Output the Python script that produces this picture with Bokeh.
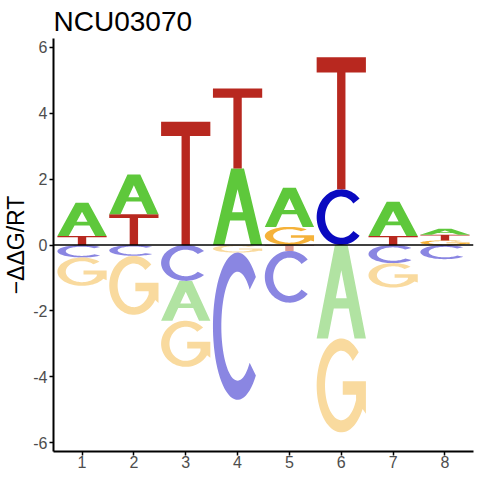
import numpy as np
from bokeh.plotting import figure
from bokeh.models import Range1d, FixedTicker, Span
from bokeh.embed import file_html
from bokeh.resources import INLINE

# ---- data (free energy contributions, -ddG/RT) ----
positions = [1, 2, 3, 4, 5, 6, 7, 8]
A_energy = [1.01, 1.21, -1.21, 2.32, 1.19, -2.84, 1.04, 0.18]
C_energy = [-0.38, -0.33, -1.09, -4.47, -1.57, 1.69, -0.55, -0.43]
G_energy = [-0.86, -1.79, -1.40, -0.23, 0.55, -2.85, -0.74, 0.14]
T_energy = [0.27, 0.93, 3.74, 2.43, -0.18, 4.01, 0.27, 0.17]
y_ticks = [-6, -4, -2, 0, 2, 4, 6]
title_text = "NCU03070"
y_label = "\u2212\u0394\u0394G/RT"

colors_pos = {"A": "#5EC83B", "C": "#0A0AC0", "G": "#F5B23A", "T": "#B8281F"}
colors_neg = {"A": "#B1E3A2", "C": "#8A86E2", "G": "#F9DA9E", "T": "#DE9C93"}

# ---- letter outline templates in unit box ----
def arc(a0, a1, rx, ry, n=60):
    t = np.radians(np.linspace(a0, a1, n))
    return list(0.5 + rx * np.cos(t)), list(0.5 + ry * np.sin(t))

def letter_A():
    s, th = 0.37, 0.23
    cb0, cb1 = 0.32, 0.43
    ox = [0, th, th + s * cb0, 1 - th - s * cb0, 1 - th, 1, 1 - s, s]
    oy = [0, 0, cb0, cb0, 0, 0, 1, 1]
    apex = (1 - 2 * th) / (2 * s)
    hx = [th + s * cb1, 1 - th - s * cb1, 0.5]
    hy = [cb1, cb1, apex]
    return [[(ox, oy), (hx, hy)]]

def letter_C():
    tx, ty = 0.17, 0.13
    x1, y1 = arc(42, 318, 0.5, 0.5)
    x2, y2 = arc(318, 42, 0.5 - tx, 0.5 - ty)
    return [[(x1 + x2, y1 + y2)]]

def letter_G():
    tx, ty = 0.17, 0.13
    rx, ry = 0.5 - tx, 0.5 - ty
    x1, y1 = arc(45, 330, 0.5, 0.5)
    sx = 0.80
    t = np.degrees(np.arccos((sx - 0.5) / rx))
    x2, y2 = arc(360 - t, 45, rx, ry)
    xs = x1 + [1.0, 1.0, 0.53, 0.53, sx] + x2
    ys = y1 + [0.2, 0.545, 0.545, 0.40, 0.40] + y2
    return [[(xs, ys)]]

def letter_T():
    b, w0, w1 = 0.885, 0.415, 0.585
    xs = [0, 1, 1, w1, w1, w0, w0, 0]
    ys = [1, 1, b, b, 0, 0, b, b]
    return [[(xs, ys)]]

templates = {"A": letter_A(), "C": letter_C(), "G": letter_G(), "T": letter_T()}

# ---- build stacked letters ----
half = 0.475
XS, YS, FC = [], [], []
energies = {"A": A_energy, "C": C_energy, "G": G_energy, "T": T_energy}
for i, pos in enumerate(positions):
    vals = [(b, energies[b][i]) for b in "ACGT"]
    pos_list = sorted([v for v in vals if v[1] > 0], key=lambda v: v[1])
    neg_list = sorted([v for v in vals if v[1] < 0], key=lambda v: -v[1])
    stacks = []
    base = 0.0
    for b, e in pos_list:
        stacks.append((b, base, base + e, colors_pos[b]))
        base += e
    base = 0.0
    for b, e in neg_list:
        stacks.append((b, base + e, base, colors_neg[b]))
        base += e
    for b, y0, y1, col in stacks:
        polys = []
        for poly in templates[b]:
            rx_, ry_ = [], []
            for (ux, uy) in poly:
                rx_.append([pos - half + u * 2 * half for u in ux])
                ry_.append([y0 + v * (y1 - y0) for v in uy])
            polys.append((rx_, ry_))
        XS.append([p_[0] for p_ in polys])
        YS.append([p_[1] for p_ in polys])
        FC.append(col)

p = figure(width=478, height=478, output_backend="svg", toolbar_location=None,
           x_range=Range1d(0.45, 8.55), y_range=Range1d(-6.27, 6.27),
           min_border_left=51, min_border_right=5, min_border_top=38, min_border_bottom=27)
p.multi_polygons(xs=XS, ys=YS, fill_color=FC, line_color=None)

p.add_layout(Span(location=0, dimension="width", line_color="black", line_width=1.3))

p.title.text = title_text
p.title.text_font = "Liberation Sans"
p.title.text_font_size = "28px"
p.title.text_font_style = "normal"
p.title.text_color = "black"
p.title.standoff = 4
p.title.offset = 0

p.xgrid.visible = False
p.ygrid.visible = False
p.outline_line_color = None
p.background_fill_color = "white"

for ax in (p.xaxis[0], p.yaxis[0]):
    ax.axis_line_color = "black"
    ax.axis_line_width = 2
    ax.major_tick_line_color = "black"
    ax.major_tick_line_width = 1.5
    ax.major_tick_out = 4
    ax.major_tick_in = 0
    ax.minor_tick_line_color = None
    ax.major_label_text_font = "Liberation Sans"
    ax.major_label_text_font_size = "16px"
    ax.major_label_text_color = "#4D4D4D"
    ax.major_label_standoff = 2

p.xaxis.major_label_standoff = 0
p.xaxis.ticker = FixedTicker(ticks=positions)
p.xaxis.major_label_overrides = {v: str(v) for v in positions}
p.yaxis.ticker = FixedTicker(ticks=y_ticks)
p.yaxis.major_label_overrides = {v: str(v) for v in y_ticks}
p.yaxis.axis_label = y_label
p.yaxis.axis_label_text_font = "Liberation Sans"
p.yaxis.axis_label_text_font_size = "23px"
p.yaxis.axis_label_text_font_style = "normal"
p.yaxis.axis_label_text_color = "black"
p.yaxis.axis_label_standoff = 1

open("out.html", "w").write(file_html(p, INLINE))
